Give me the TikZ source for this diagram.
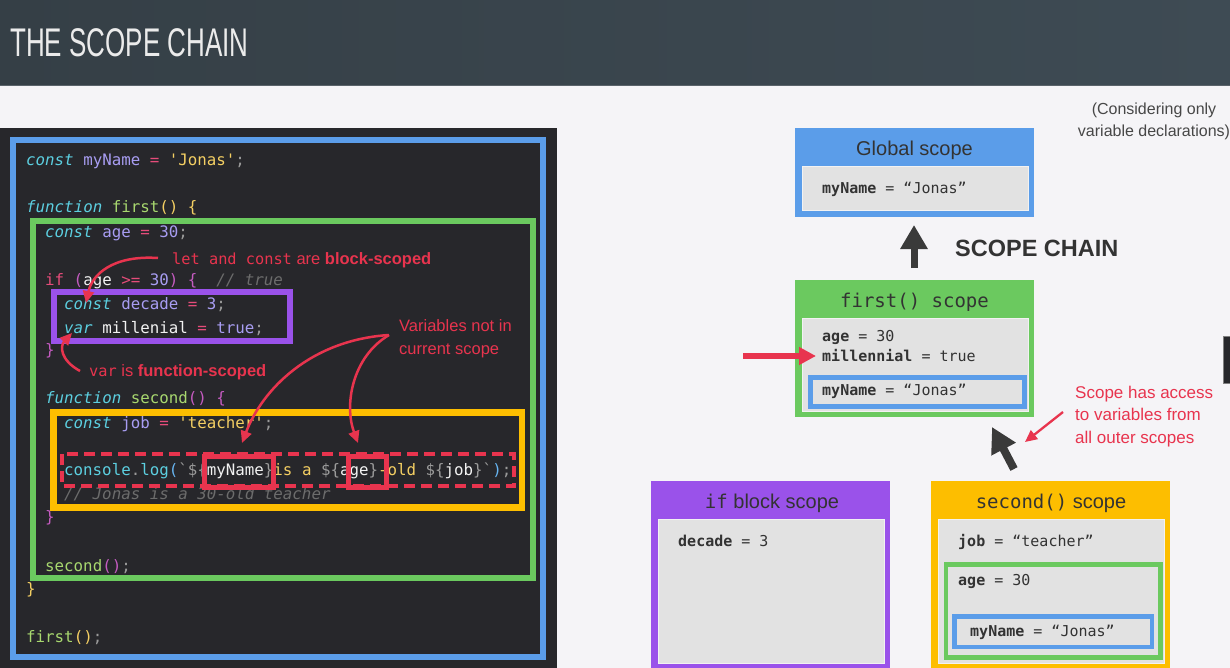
\documentclass[tikz,border=0pt]{standalone}
\usepackage{fontspec}
\setmainfont{Liberation Sans}
\setsansfont{Liberation Sans}
\setmonofont{DejaVu Sans Mono}
\usetikzlibrary{arrows.meta}

% palette
\definecolor{cbg}{HTML}{F5F4F7}
\definecolor{cheadL}{HTML}{353F46}
\definecolor{cheadR}{HTML}{3E4B54}
\definecolor{cheadline}{HTML}{5A636A}
\definecolor{cpanel}{HTML}{27272B}
\definecolor{cblue}{HTML}{5B9DE9}
\definecolor{cgreen}{HTML}{6BC95F}
\definecolor{cpurple}{HTML}{9A52EA}
\definecolor{cyellow}{HTML}{FDBE00}
\definecolor{cred}{HTML}{E8344E}
\definecolor{cgray}{HTML}{E2E2E2}
\definecolor{cgrayedge}{HTML}{F2F2F2}
\definecolor{ctext}{HTML}{333333}
\definecolor{cdark}{HTML}{3A3A3A}
% syntax colours
\definecolor{ckw}{HTML}{5CCFE0}
\definecolor{cid}{HTML}{A89DF2}
\definecolor{cop}{HTML}{E64C7A}
\definecolor{cst}{HTML}{F4CF63}
\definecolor{cfn}{HTML}{A8D86F}
\definecolor{cbr}{HTML}{C45BC0}
\definecolor{cpu}{HTML}{9B9B9B}
\definecolor{ccm}{HTML}{6C6C6C}
\definecolor{cwh}{HTML}{F2F2F2}
\definecolor{cbl}{HTML}{67B4F0}

\newcommand\cKw[1]{\textcolor{ckw}{\itshape #1}}
\newcommand\cCy[1]{\textcolor{ckw}{#1}}
\newcommand\cId[1]{\textcolor{cid}{#1}}
\newcommand\cOp[1]{\textcolor{cop}{#1}}
\newcommand\cSt[1]{\textcolor{cst}{#1}}
\newcommand\cFn[1]{\textcolor{cfn}{#1}}
\newcommand\cBr[1]{\textcolor{cbr}{#1}}
\newcommand\cPu[1]{\textcolor{cpu}{#1}}
\newcommand\cCm[1]{\textcolor{ccm}{\itshape #1}}
\newcommand\cWh[1]{\textcolor{cwh}{#1}}
\newcommand\cBl[1]{\textcolor{cbl}{#1}}
\newcommand\cYe[1]{\textcolor{cst}{#1}}

\begin{document}
\begin{tikzpicture}[x=1pt,y=-1pt,
  codeln/.style={anchor=base west, inner sep=0pt, text=cwh,
    font=\ttfamily\fontsize{15.8}{18}\selectfont},
  annot/.style={anchor=base west, inner sep=0pt, text=cred,
    font=\fontsize{16.5}{20}\selectfont},
  boxtitle/.style={anchor=base, inner sep=0pt, text=ctext,
    font=\fontsize{20}{24}\selectfont},
  vartext/.style={anchor=base west, inner sep=0pt, text=ctext,
    font=\ttfamily\fontsize{15}{18}\selectfont},
  scopebox/.style={anchor=north west, inner sep=0pt, outer sep=0pt,
    minimum width=239, draw=none},
  innerbox/.style={fill=cgray, draw=cgrayedge, line width=0.8},
  redarrow/.style={cred, line width=2.5, -{Triangle[length=12,width=11]}},
  frame/.style={line width=6.5}
]
\useasboundingbox (0,0) rectangle (1230,668);
\fill[cbg] (0,0) rectangle (1230,668);

% ---------- header ----------
\shade[left color=cheadL, right color=cheadR] (0,0) rectangle (1230,86);
\draw[cheadline, line width=1] (0,86) -- (1230,86);
\node[anchor=west, inner sep=0pt, text=white!92!black,
  font=\fontsize{40}{40}\selectfont] (title) at (10,43)
  {\scalebox{0.65}[1]{THE SCOPE CHAIN}};

% ---------- code panel ----------
\fill[cpanel] (0,128) rectangle (557,668);

\draw[cblue, frame] (13,140) rectangle (543,657);
\draw[cgreen, frame] (33,221) rectangle (533,578);
\draw[cpurple, frame] (54,292) rectangle (290,341);
\draw[cyellow, frame] (53.5,412.5) rectangle (522,507.5);

\node[codeln] (l1)  at (26,166) {\cKw{const} \cId{myName} \cOp{=} \cSt{'Jonas'}\cPu{;}};
\node[codeln] (l2)  at (26,213) {\cKw{function} \cFn{first}\cYe{() \{}};
\node[codeln] (l3)  at (45,237) {\cKw{const} \cId{age} \cOp{=} \cId{30}\cPu{;}};
\node[codeln] (l4)  at (45,285) {\cOp{if} \cBr{(}\cWh{age} \cOp{>=} \cId{30}\cBr{)} \cBr{\{}~~\cCm{// true}};
\node[codeln] (l5)  at (64,309) {\cKw{const} \cId{decade} \cOp{=} \cId{3}\cPu{;}};
\node[codeln] (l6)  at (64,333) {\cKw{var} \cWh{millenial} \cOp{=} \cId{true}\cPu{;}};
\node[codeln] (l7)  at (45,355) {\cBr{\}}};
\node[codeln] (l8)  at (45,403) {\cKw{function} \cFn{second}\cBr{() \{}};
\node[codeln] (l9)  at (64,428) {\cKw{const} \cId{job} \cOp{=} \cSt{'teacher'}\cPu{;}};
\node[codeln] (l10) at (64,475) {\cCy{console}\cPu{.}\cCy{log}\cBl{(}\cPu{`\$\{}\cWh{myName}\cPu{\}}\cYe{ is a }\cPu{\$\{}\cWh{age}\cPu{\}}\cYe{-old }\cPu{\$\{}\cWh{job}\cPu{\}`}\cBl{)}\cPu{;}};
\node[codeln] (l11) at (64,499) {\cCm{// Jonas is a 30-old teacher}};
\node[codeln] (l12) at (45,522) {\cBr{\}}};
\node[codeln] (l13) at (45,571) {\cFn{second}\cBr{()}\cPu{;}};
\node[codeln] (l14) at (26,594) {\cYe{\}}};
\node[codeln] (l15) at (26,642) {\cFn{first}\cYe{()}\cPu{;}};

% highlighted template literal and the two outer variables
\draw[cred, line width=4, dash pattern=on 11 off 6] (62,454) rectangle (514,486);
\node[draw=cred, line width=5, anchor=north west, inner sep=0pt,
  minimum width=69, minimum height=31] (nameBox) at (202,454) {};
\node[draw=cred, line width=5, anchor=north west, inner sep=0pt,
  minimum width=38, minimum height=31] (ageBox) at (346,454) {};

% annotations
\node[annot] (blockNote) at (172,264)
  {{\ttfamily\fontsize{15.3}{18}\selectfont let and const} are \textbf{block-scoped}};
\node[annot] (varNote) at (89,376)
  {{\ttfamily\fontsize{15.3}{18}\selectfont var} is \textbf{function-scoped}};
\node[annot] (outerNoteA) at (399,331) {Variables not in};
\node[annot] (outerNoteB) at (399,354) {current scope};

\coordinate (blockFrom) at (158,258);
\coordinate (constTip) at (86,303);
\coordinate (varFrom) at (80,371);
\coordinate (varTip) at (72,333);
\coordinate (outerFrom) at (389,335);
\coordinate (nameTip) at (242,443);
\coordinate (ageTip) at (358,443);

\draw[redarrow] (blockFrom) .. controls (112,255) and (92,275) .. (constTip);
\draw[redarrow] (varFrom) .. controls (60,360) and (60,346) .. (varTip);
\draw[redarrow] (outerFrom) .. controls (310,340) and (262,390) .. (nameTip);
\draw[redarrow] (outerFrom) .. controls (352,357) and (344,405) .. (ageTip);

% ---------- scope boxes ----------
\node[text=ctext!90, anchor=base, inner sep=0pt,
  font=\fontsize{16}{20}\selectfont] (noteA) at (1154,115) {(Considering only};
\node[text=ctext!90, anchor=base, inner sep=0pt,
  font=\fontsize{16}{20}\selectfont] (noteB) at (1154,137) {variable declarations)};

% global
\node[scopebox, fill=cblue, minimum height=89] (glob) at (795,128) {};
\draw[innerbox] (802,166) rectangle (1028,210);
\node[boxtitle] (globTitle) at (914.5,156) {Global scope};
\node[vartext] (globVar) at (822,194) {\textbf{myName} = “Jonas”};

% scope chain arrow
\coordinate (chainFrom) at (914,268);
\coordinate (chainTip) at (914,225);
\draw[cdark, line width=7, -{Triangle[length=24,width=26]}] (chainFrom) -- (chainTip);
\node[anchor=base west, inner sep=0pt, text=ctext,
  font=\bfseries\fontsize{23.5}{28}\selectfont] (chainLabel) at (955,256.5) {SCOPE CHAIN};

% first()
\node[scopebox, fill=cgreen, minimum height=137] (firstBox) at (795,280) {};
\draw[innerbox] (802,318) rectangle (1028,411);
\node[boxtitle, font=\ttfamily\fontsize{19}{24}\selectfont] (firstTitle) at (914.5,307) {first() scope};
\node[vartext] (firstAge) at (822,341) {\textbf{age} = 30};
\node[vartext] (firstMil) at (822,361) {\textbf{millennial} = true};
\node[draw=cblue, line width=5, anchor=north west, inner sep=0pt,
  minimum width=214, minimum height=29] (firstGlob) at (808,375) {};
\node[vartext] (firstName) at (822,395) {\textbf{myName} = “Jonas”};

\coordinate (milFrom) at (743,356);
\coordinate (milTip) at (816,356);
\draw[cred, line width=5.5, -{Triangle[length=17,width=17]}] (milFrom) -- (milTip);

% lookup pointer and its note
\coordinate (ptrFrom) at (1014,469);
\coordinate (ptrTip) at (992,427);
\draw[cdark, line width=8, -{Triangle[length=25,width=26]}] (ptrFrom) -- (ptrTip);
\node[annot, font=\fontsize{17}{20}\selectfont] (accessA) at (1075,398) {Scope has access};
\node[annot, font=\fontsize{17}{20}\selectfont] (accessB) at (1075,420) {to variables from};
\node[annot, font=\fontsize{17}{20}\selectfont] (accessC) at (1075,443) {all outer scopes};
\coordinate (accessFrom) at (1063,412);
\coordinate (accessTip) at (1025,442);
\draw[redarrow, line width=2.3] (accessFrom) -- (accessTip);

% if block
\node[scopebox, fill=cpurple, minimum height=190] (ifBox) at (651,481) {};
\draw[innerbox] (658,519) rectangle (884,663);
\node[boxtitle] (ifTitle) at (772,508)
  {{\ttfamily\fontsize{19}{24}\selectfont if} block scope};
\node[vartext] (ifVar) at (678,546) {\textbf{decade} = 3};

% second()
\node[scopebox, fill=cyellow, minimum height=190] (secondBox) at (931,481) {};
\draw[innerbox] (938,519) rectangle (1164,663);
\node[boxtitle] (secondTitle) at (1051,508)
  {{\ttfamily\fontsize{19}{24}\selectfont second()} scope};
\node[vartext] (secondJob) at (958,546) {\textbf{job} = “teacher”};
\node[draw=cgreen, line width=4.5, anchor=north west, inner sep=0pt,
  minimum width=214.5, minimum height=93] (secondFirst) at (943.5,562) {};
\node[vartext] (secondAge) at (958,585) {\textbf{age} = 30};
\node[draw=cblue, line width=4.5, anchor=north west, inner sep=0pt,
  minimum width=197.5, minimum height=30.5] (secondGlob) at (952,614) {};
\node[vartext] (secondName) at (970,636) {\textbf{myName} = “Jonas”};

% partly visible panel at the right edge
\node[fill=cpanel, draw=gray, line width=1, anchor=north west, inner sep=0pt,
  minimum width=14, minimum height=47] (edgePanel) at (1223,336) {};
\end{tikzpicture}
\end{document}
